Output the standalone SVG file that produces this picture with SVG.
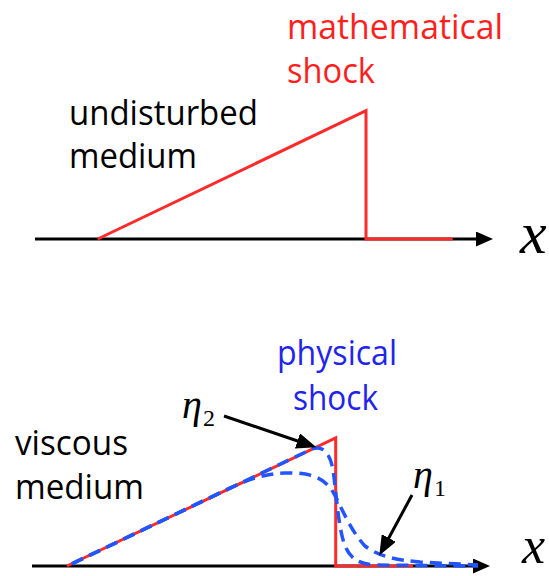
<svg xmlns="http://www.w3.org/2000/svg" width="549" height="576" viewBox="0 0 549 576">
<style>
.lbl{font-family:"Open Sans","Liberation Sans",sans-serif;font-size:35px}
.math{font-family:"Liberation Serif","DejaVu Serif",serif;font-style:italic}
.sub{font-family:"Liberation Serif","DejaVu Serif",serif;font-size:24px}
.axis{stroke:#000;stroke-width:3;fill:none}
.red{stroke:#FF2A2A;stroke-width:3;fill:none;stroke-linejoin:miter}
.blue{stroke:#2255FF;stroke-width:3.5;fill:none;stroke-dasharray:12 7}
.ptr{stroke:#000;stroke-width:3;fill:none}
</style>
<defs>
<marker id="axhead" markerUnits="userSpaceOnUse" markerWidth="17" markerHeight="15" refX="7" refY="7.5" orient="auto">
<path d="M0,0 L17,7.5 L0,15 z" fill="#000"/>
</marker>
<marker id="ptrhead" markerUnits="userSpaceOnUse" markerWidth="20" markerHeight="16" refX="8" refY="8" orient="auto">
<path d="M0,0 L20,8 L0,16 z" fill="#000"/>
</marker>
</defs>

<g id="top-plot">
<line class="axis" x1="35" y1="239" x2="483" y2="239" marker-end="url(#axhead)"/>
<polyline class="red" points="97.7,239 366,110.7 366,239 452.7,239"/>
<text class="math" x="520" y="253" font-size="60">x</text>
</g>

<g id="label-math-shock">
<text class="lbl" fill="#FF1F1F" x="287" y="39" textLength="216" lengthAdjust="spacingAndGlyphs">mathematical</text>
<text class="lbl" fill="#FF1F1F" x="287" y="83" textLength="88" lengthAdjust="spacingAndGlyphs">shock</text>
</g>
<g id="label-undisturbed">
<text class="lbl" fill="#000" x="69" y="125" textLength="189" lengthAdjust="spacingAndGlyphs">undisturbed</text>
<text class="lbl" fill="#000" x="69" y="168" textLength="128" lengthAdjust="spacingAndGlyphs">medium</text>
</g>

<g id="bottom-plot">
<line class="axis" x1="32" y1="566" x2="480" y2="566" marker-end="url(#axhead)"/>
<polyline class="red" points="67,566 335.7,438 335.7,566 413,566"/>
<path id="eta1-curve" class="blue" d="M72,564 L205,500 C235,486 255,474 285,473 C310,472 325,478 333,492 C342,508 350,530 365,546 C378,556 395,560 420,562 L478,565"/>
<path id="eta2-curve" class="blue" d="M72,563.6 L312,449 C322,445 330,452 333,470 C336,490 338,525 344,543 C349,558 358,564 375,565 L478,566"/>
<text class="math" x="522" y="563" font-size="52">x</text>
</g>

<g id="label-physical-shock">
<text class="lbl" fill="#2323EE" x="277" y="365" textLength="120" lengthAdjust="spacingAndGlyphs">physical</text>
<text class="lbl" fill="#2323EE" x="293" y="410" textLength="85" lengthAdjust="spacingAndGlyphs">shock</text>
</g>
<g id="label-viscous">
<text class="lbl" fill="#000" x="15" y="455" textLength="113" lengthAdjust="spacingAndGlyphs">viscous</text>
<text class="lbl" fill="#000" x="15" y="499" textLength="129" lengthAdjust="spacingAndGlyphs">medium</text>
</g>
<g id="label-eta2">
<text class="math" x="182" y="418" font-size="40">η</text>
<text class="sub" x="203" y="426">2</text>
</g>
<g id="label-eta1">
<text class="math" x="413" y="488" font-size="40">η</text>
<text class="sub" x="434" y="496">1</text>
</g>

<g id="connectors">
<line class="ptr" x1="224" y1="416" x2="305" y2="443.5" marker-end="url(#ptrhead)"/>
<line class="ptr" x1="412" y1="495" x2="385" y2="545" marker-end="url(#ptrhead)"/>
</g>
</svg>
